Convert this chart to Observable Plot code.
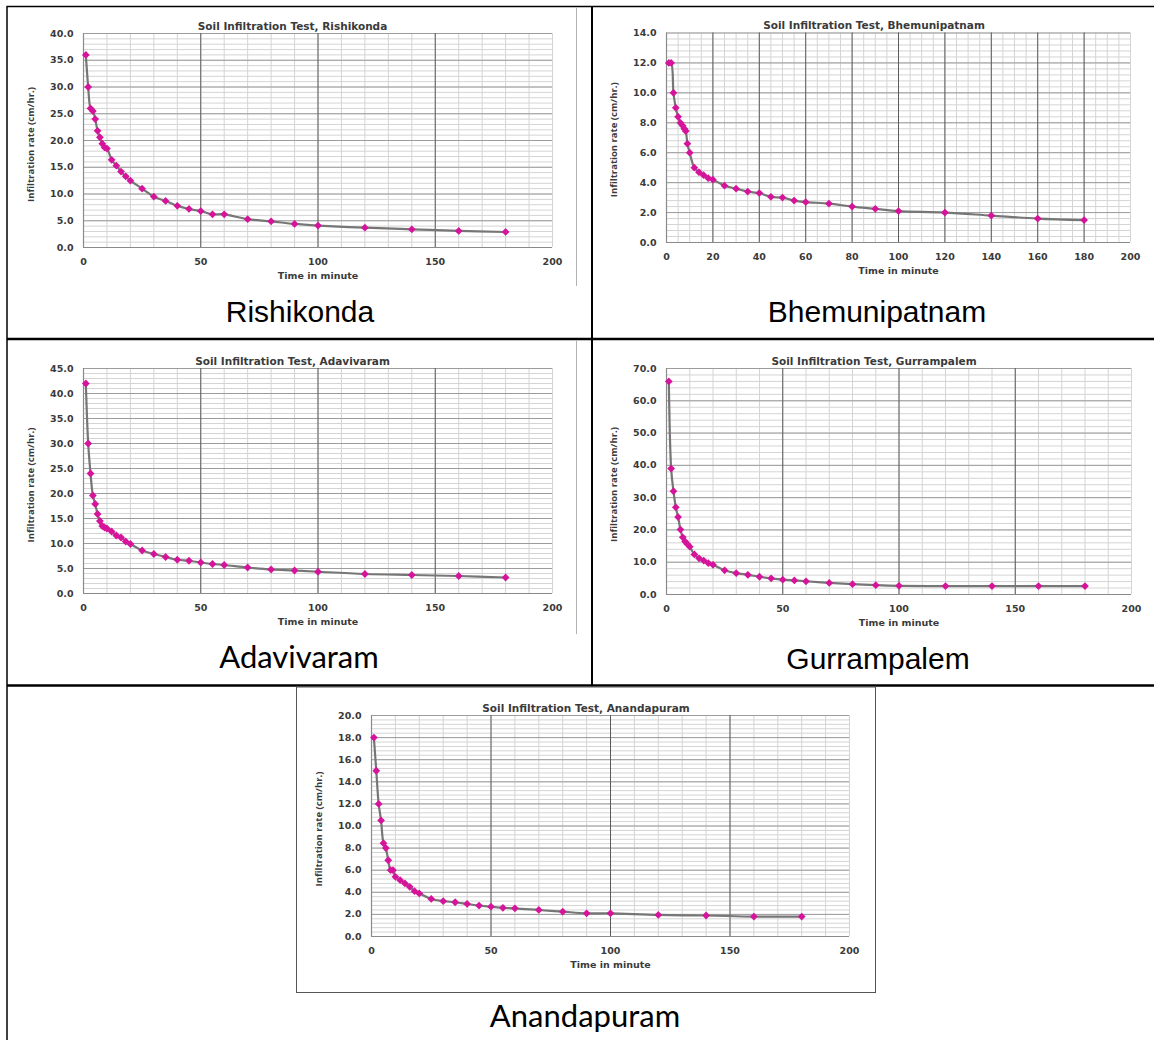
<!DOCTYPE html>
<html>
<head>
<meta charset="utf-8">
<script src="https://cdn.jsdelivr.net/npm/d3@7"></script>
<script src="https://cdn.jsdelivr.net/npm/@observablehq/plot@0.6"></script>
<style>
  body { margin: 0; background: #fff; }
  #page { position: relative; width: 1154px; height: 1040px; overflow: hidden; background: #fff; }
  #page > svg.overlay { position: absolute; left: 0; top: 0; }
  .chart { position: absolute; }
  .chart svg { display: block; }
</style>
</head>
<body>
<div id="page"></div>
<script>
// ---------------- data ----------------
const minutes = [1,2,3,4,5,6,7,8,9,10,12,14,16,18,20,25,30,35,40,45,50,55,60,70,80,90,100,120,140,160,180];
const bhemunipatnamMinutes = [1,2,3,4,5,6,7,7.7,8.3,9,10,12,14,16,18,20,25,30,35,40,45,50,55,60,70,80,90,100,120,140,160,180];

const rishikondaRate = [36,30,26,25.5,24,21.8,20.6,19.4,18.7,18.5,16.4,15.3,14.2,13.3,12.5,11.0,9.5,8.7,7.8,7.2,6.8,6.2,6.2,5.3,4.9,4.4,4.1,3.7,3.4,3.1,2.9];
const bhemunipatnamRate = [12,12,10,9,8.4,8,7.8,7.6,7.45,6.6,6,5,4.7,4.5,4.3,4.2,3.8,3.6,3.4,3.3,3.05,3,2.8,2.7,2.6,2.4,2.25,2.1,2,1.8,1.6,1.5];
const adavivaramRate = [42,30,24,19.6,17.9,15.9,14.5,13.5,13.2,13.0,12.4,11.6,11.2,10.4,9.9,8.6,7.9,7.3,6.75,6.55,6.2,5.9,5.7,5.2,4.8,4.6,4.35,3.9,3.7,3.5,3.2];
const gurrampalemRate = [66,39,32,27,24,20.1,17.7,16.4,15.6,14.8,12.4,11.2,10.5,9.7,9.2,7.5,6.6,6.1,5.5,5.0,4.6,4.35,4.1,3.6,3.2,2.9,2.7,2.6,2.6,2.6,2.6];
const anandapuramRate = [18,15,12,10.5,8.45,8.0,6.9,6.0,6.0,5.4,5.1,4.8,4.5,4.1,3.9,3.4,3.2,3.1,2.95,2.8,2.7,2.6,2.55,2.4,2.25,2.1,2.1,1.95,1.9,1.8,1.8];

// tick labels
const xTicksBy50 = [0,50,100,150,200];
const xTicksBy20 = [0,20,40,60,80,100,120,140,160,180,200];
const yTicksRishikonda = [0,5,10,15,20,25,30,35,40];
const yTicksBhemunipatnam = [0,2,4,6,8,10,12,14];
const yTicksAdavivaram = [0,5,10,15,20,25,30,35,40,45];
const yTicksGurrampalem = [0,10,20,30,40,50,60,70];
const yTicksAnandapuram = [0,2,4,6,8,10,12,14,16,18,20];

const places = ["Rishikonda","Bhemunipatnam","Adavivaram","Gurrampalem","Anandapuram"];
const xTitle = "Time in minute";
const yTitle = "Infiltration rate (cm/hr.)";

// ---------------- layout ----------------
const charts = [
  {place: places[0], t: minutes, v: rishikondaRate, xTicks: xTicksBy50, xMinor: 10, yTicks: yTicksRishikonda, yMinor: 1,
   left: 8, top: 8, w: 568, h: 278, mL: 75, mR: 24, mT: 25, mB: 39, yTitleDy: 4},
  {place: places[1], t: bhemunipatnamMinutes, v: bhemunipatnamRate, xTicks: xTicksBy20, xMinor: 5, yTicks: yTicksBhemunipatnam, yMinor: 0.4,
   left: 593, top: 8, w: 561, h: 278, mL: 73, mR: 24, mT: 24.5, mB: 44, yTitleDy: 2},
  {place: places[2], t: minutes, v: adavivaramRate, xTicks: xTicksBy50, xMinor: 10, yTicks: yTicksAdavivaram, yMinor: 1,
   left: 8, top: 340, w: 568, h: 293, mL: 75, mR: 24, mT: 28, mB: 40, yTitleDy: 4},
  {place: places[3], t: minutes, v: gurrampalemRate, xTicks: xTicksBy50, xMinor: 10, yTicks: yTicksGurrampalem, yMinor: 2,
   left: 593, top: 340, w: 561, h: 294, mL: 73, mR: 23, mT: 28, mB: 40, yTitleDy: 3},
  {place: places[4], t: minutes, v: anandapuramRate, xTicks: xTicksBy50, xMinor: 10, yTicks: yTicksAnandapuram, yMinor: 0.4,
   left: 296, top: 688, w: 579, h: 304, mL: 75, mR: 26, mT: 27, mB: 56, yTitleDy: 3}
];

const page = document.getElementById("page");

// table lines, image edges and cell captions
const overlay = d3.select(page).append("svg").attr("class", "overlay")
  .attr("width", 1154).attr("height", 1040);
const lines = [
  {x1: 6.5, y1: 6.5, x2: 1154, y2: 6.5, w: 1.5},
  {x1: 7, y1: 6.5, x2: 7, y2: 1040, w: 1.5},
  {x1: 592, y1: 6.5, x2: 592, y2: 686, w: 2},
  {x1: 7, y1: 339, x2: 1154, y2: 339, w: 2.5},
  {x1: 7, y1: 685.5, x2: 1154, y2: 685.5, w: 2.5}
];
overlay.selectAll("line.tbl").data(lines).join("line").attr("class", "tbl")
  .attr("x1", d => d.x1).attr("y1", d => d.y1).attr("x2", d => d.x2).attr("y2", d => d.y2)
  .attr("stroke", "#000").attr("stroke-width", d => d.w);
// picture edges
overlay.append("line").attr("x1", 576.5).attr("x2", 576.5).attr("y1", 8).attr("y2", 286).attr("stroke", "#b4b4b4");
overlay.append("line").attr("x1", 576.5).attr("x2", 576.5).attr("y1", 341).attr("y2", 634).attr("stroke", "#b4b4b4");
overlay.append("rect").attr("x", 296.5).attr("y", 687).attr("width", 579).attr("height", 305.5)
  .attr("fill", "none").attr("stroke", "#555").attr("stroke-width", 1);

const captions = [
  {text: places[0], x: 300, y: 322, font: "'Liberation Sans', Arial, sans-serif", size: 30},
  {text: places[1], x: 877, y: 322, font: "'Liberation Sans', Arial, sans-serif", size: 30},
  {text: places[2], x: 299, y: 668, font: "Lato, 'Open Sans', sans-serif", size: 31},
  {text: places[3], x: 878, y: 669, font: "'Liberation Sans', Arial, sans-serif", size: 30},
  {text: places[4], x: 585, y: 1027, font: "Lato, 'Open Sans', sans-serif", size: 31}
];
overlay.selectAll("text.cap").data(captions).join("text").attr("class", "cap")
  .attr("x", d => d.x).attr("y", d => d.y).attr("text-anchor", "middle")
  .attr("font-family", d => d.font).attr("font-size", d => d.size).attr("fill", "#000")
  .text(d => d.text);

// ---------------- charts ----------------
function makeChart(c) {
  const data = c.t.map((t, i) => ({t, v: c.v[i]}));
  const yMax = c.yTicks[c.yTicks.length - 1];
  const xMinorTicks = d3.range(0, 200 + 1e-9, c.xMinor);
  const yMinorTicks = d3.range(0, yMax + 1e-9, c.yMinor);
  const xMajorInner = c.xTicks.filter(d => d > 0 && d < 200);
  const yMajor = c.yTicks.filter(d => d > 0);
  const plot = Plot.plot({
    width: c.w, height: c.h,
    marginLeft: c.mL, marginRight: c.mR, marginTop: c.mT, marginBottom: c.mB,
    x: {domain: [0, 200]},
    y: {domain: [0, yMax]},
    style: {fontFamily: "'DejaVu Sans', sans-serif", color: "#3a3a3a", background: "transparent", overflow: "visible"},
    marks: [
      Plot.gridX(xMinorTicks, {stroke: "#d4d4d4", strokeOpacity: 1, strokeWidth: 1}),
      Plot.gridY(yMinorTicks, {stroke: "#d4d4d4", strokeOpacity: 1, strokeWidth: 1}),
      Plot.gridY(yMajor, {stroke: "#9c9c9c", strokeOpacity: 1, strokeWidth: 1}),
      Plot.gridX(xMajorInner, {stroke: "#5a5a5a", strokeOpacity: 1, strokeWidth: 1}),
      Plot.ruleX([0], {stroke: "#8a8a8a", strokeWidth: 1.2}),
      Plot.ruleY([0], {stroke: "#8a8a8a", strokeWidth: 1.2}),
      Plot.line(data, {x: "t", y: "v", curve: "catmull-rom", stroke: "#767676", strokeWidth: 2.2}),
      Plot.dot(data, {x: "t", y: "v", symbol: "diamond2", r: 3.5, fill: "#d6149b", stroke: "none"}),
      Plot.axisX({ticks: c.xTicks, tickSize: 0, tickPadding: 11, tickFormat: d => String(d), label: null,
        fontSize: 9.5, fontWeight: "bold"}),
      Plot.axisY({ticks: c.yTicks, tickSize: 0, tickPadding: 10, tickFormat: d => d.toFixed(1), label: null,
        fontSize: 9.5, fontWeight: "bold"}),
      Plot.text([`Soil Infiltration Test, ${c.place}`], {text: d => d, frameAnchor: "top", dy: -11, dx: (c.mR - c.mL) / 2,
        fontSize: 10.5, fontWeight: "bold"}),
      Plot.text([xTitle], {text: d => d, frameAnchor: "bottom", dy: 31, fontSize: 9.5, fontWeight: "bold"}),
      Plot.text([yTitle], {text: d => d, frameAnchor: "left", textAnchor: "middle", dx: -53, dy: c.yTitleDy, rotate: -90,
        fontFamily: "'Open Sans', sans-serif", fontSize: 9.5, fontWeight: "bold"})
    ]
  });
  const div = document.createElement("div");
  div.className = "chart";
  div.style.left = c.left + "px";
  div.style.top = c.top + "px";
  div.appendChild(plot);
  page.appendChild(div);
}
charts.forEach(makeChart);
</script>
</body>
</html>
